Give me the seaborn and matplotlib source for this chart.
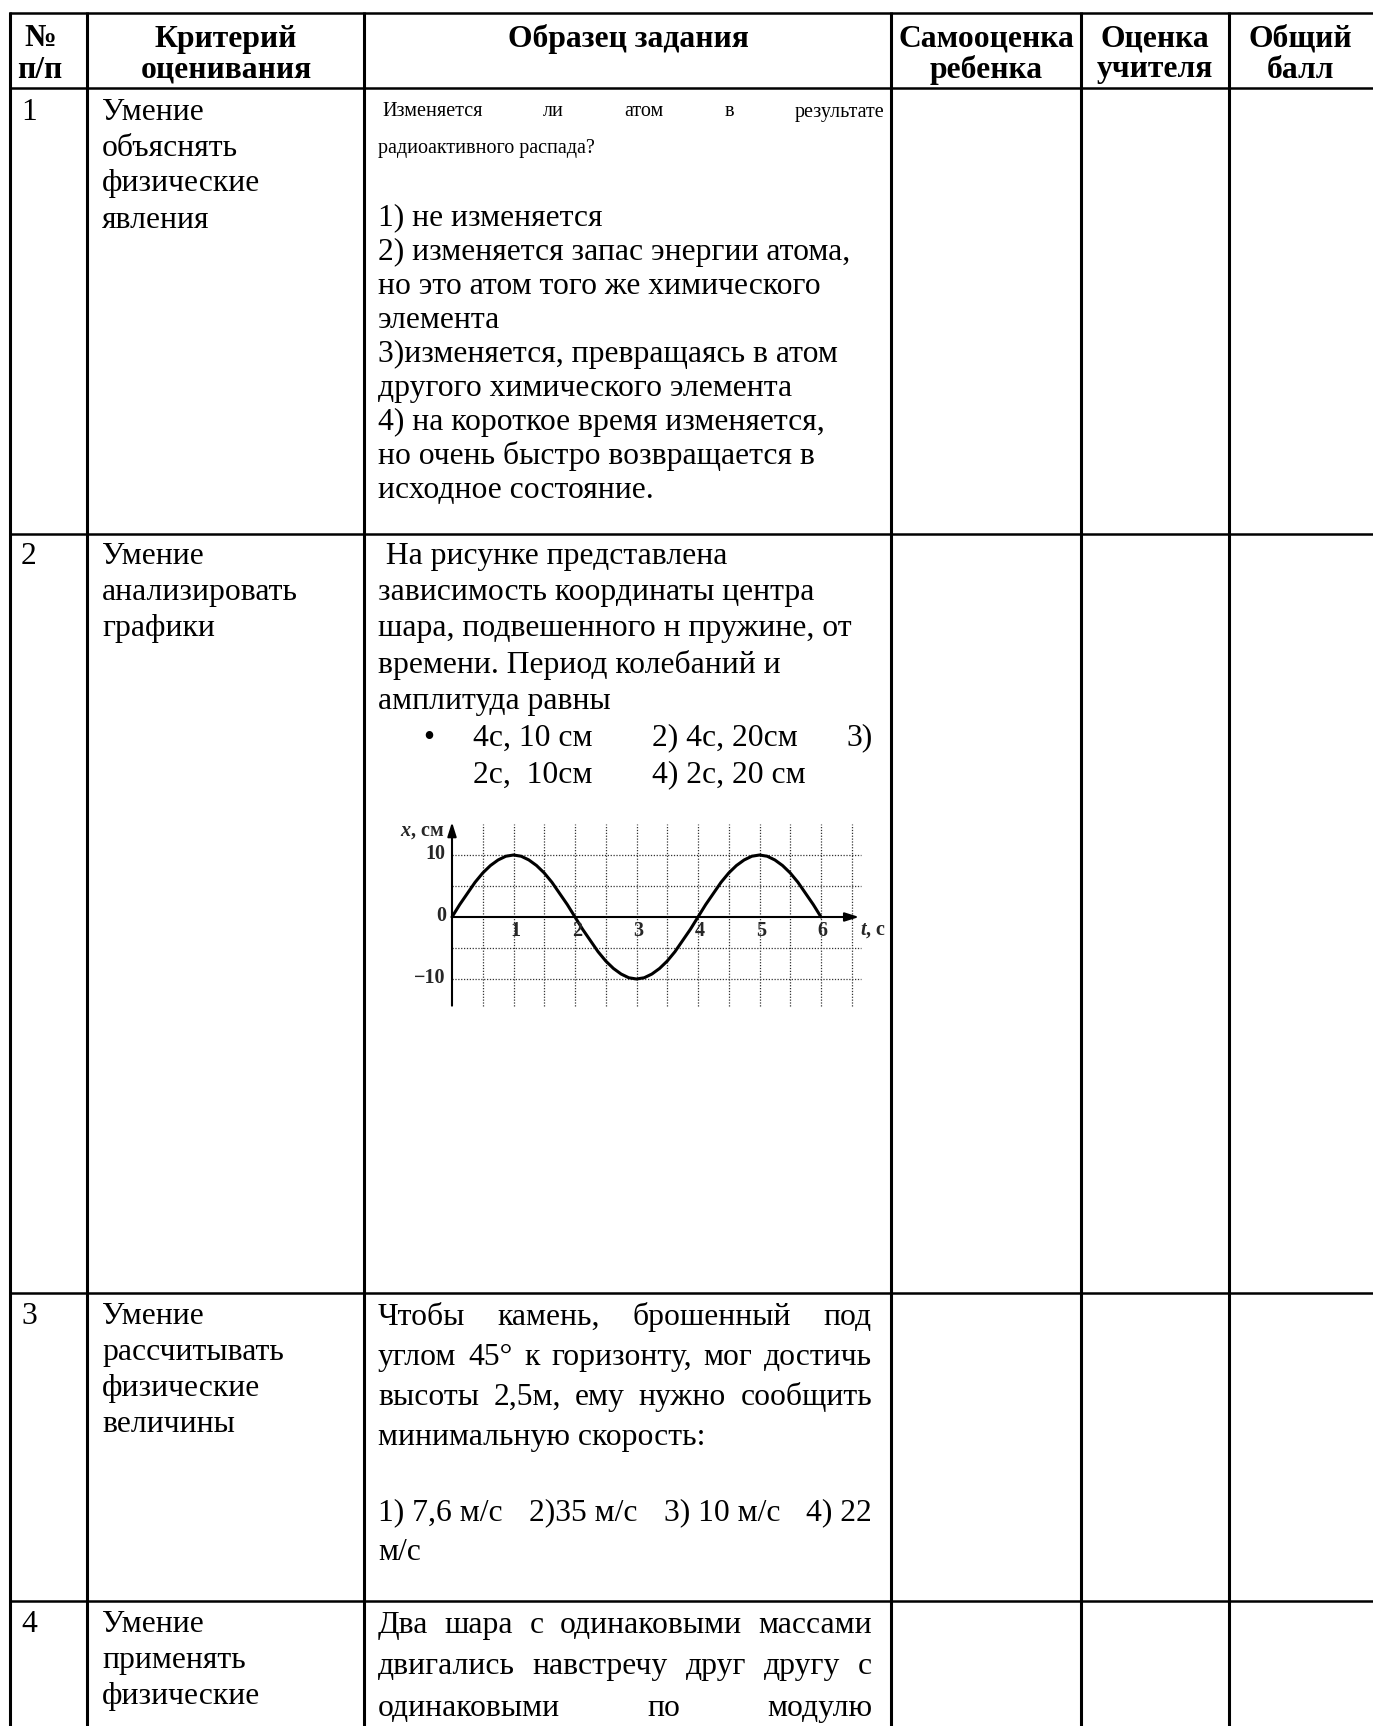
import numpy as np
import pandas as pd
import matplotlib
matplotlib.use("Agg")
import matplotlib.pyplot as plt
import seaborn as sns

# ---------------- data ----------------
header_col1 = ["№", "п/п"]
header_col2 = ["Критерий", "оценивания"]
header_col3 = ["Образец задания"]
header_col4 = ["Самооценка", "ребенка"]
header_col5 = ["Оценка", "учителя"]
header_col6 = ["Общий", "балл"]

row_numbers = ["1", "2", "3", "4"]
criteria_1 = ["Умение", "объяснять", "физические", "явления"]
criteria_2 = ["Умение", "анализировать", "графики"]
criteria_3 = ["Умение", "рассчитывать", "физические", "величины"]
criteria_4 = ["Умение", "применять", "физические"]

task1_first = ["Изменяется", "ли", "атом", "в", "результате"]
task1_second = "радиоактивного распада?"
task1_rest = ["1) не изменяется",
              "2) изменяется запас энергии атома,",
              "но это атом того же химического",
              "элемента",
              "3)изменяется, превращаясь в атом",
              "другого химического элемента",
              "4) на короткое время изменяется,",
              "но очень быстро возвращается в",
              "исходное состояние."]

task2_lines = [" На рисунке представлена",
               "зависимость координаты центра",
               "шара, подвешенного н пружине, от",
               "времени. Период колебаний и",
               "амплитуда равны"]
task2_opts_1 = ["4с, 10 см", "2) 4с, 20см", "3)"]
task2_opts_2 = ["2с,  10см", "4) 2с, 20 см"]

task3_just = [["Чтобы", "камень,", "брошенный", "под"],
              ["углом", "45°", "к", "горизонту,", "мог", "достичь"],
              ["высоты", "2,5м,", "ему", "нужно", "сообщить"]]
task3_plain = "минимальную скорость:"
task3_answers = ["1) 7,6 м/с", "2)35 м/с", "3) 10 м/с", "4) 22"]
task3_last = "м/с"

task4_just = [["Два", "шара", "с", "одинаковыми", "массами"],
              ["двигались", "навстречу", "друг", "другу", "с"],
              ["одинаковыми", "по", "модулю"]]

# oscillation graph (t in s, x in cm)
t_values = [0, 0.125, 0.25, 0.375, 0.5, 0.625, 0.75, 0.875, 1,
            1.125, 1.25, 1.375, 1.5, 1.625, 1.75, 1.875, 2,
            2.125, 2.25, 2.375, 2.5, 2.625, 2.75, 2.875, 3,
            3.125, 3.25, 3.375, 3.5, 3.625, 3.75, 3.875, 4,
            4.125, 4.25, 4.375, 4.5, 4.625, 4.75, 4.875, 5,
            5.125, 5.25, 5.375, 5.5, 5.625, 5.75, 5.875, 6]
x_values = [0, 2.0, 3.8, 5.6, 7.1, 8.3, 9.2, 9.8, 10,
            9.8, 9.2, 8.3, 7.1, 5.6, 3.8, 2.0, 0,
            -2.0, -3.8, -5.6, -7.1, -8.3, -9.2, -9.8, -10,
            -9.8, -9.2, -8.3, -7.1, -5.6, -3.8, -2.0, 0,
            2.0, 3.8, 5.6, 7.1, 8.3, 9.2, 9.8, 10,
            9.8, 9.2, 8.3, 7.1, 5.6, 3.8, 2.0, 0]
t_tick_labels = ["1", "2", "3", "4", "5", "6"]
t_ticks = [1, 2, 3, 4, 5, 6]
x_tick_labels = ["10", "0", "−10"]
x_ticks = [10, 0, -10]
grid_t = [0.5, 1, 1.5, 2, 2.5, 3, 3.5, 4, 4.5, 5, 5.5, 6, 6.5]
grid_x = [-10, -5, 5, 10]

# ---------------- style ----------------
sns.set_theme(style="white")
plt.rcParams['font.family'] = ['Liberation Serif', 'DejaVu Serif']
plt.rcParams['mathtext.fontset'] = 'custom'
plt.rcParams['mathtext.it'] = 'Liberation Serif:italic:bold'
plt.rcParams['mathtext.rm'] = 'Liberation Serif'

W, H = 1373, 1726
fig = plt.figure(figsize=(W / 100, H / 100), dpi=100)
fig.patch.set_facecolor('white')
ax = fig.add_axes([0, 0, 1, 1])
ax.set_xlim(0, W)
ax.set_ylim(H, 0)
ax.axis('off')
renderer = fig.canvas.get_renderer()

FS = 22.8
BODY = dict(fontsize=FS, color='black', va='center')
NARROW = dict(fontsize=14.5, color='black', va='center')

# table grid
col_x = [10, 87, 364, 891, 1081, 1229]
row_y = [13, 88, 534, 1293, 1601]
for x in col_x:
    ax.plot([x, x], [row_y[0] - 1, H], color='black', lw=2.2, solid_capstyle='butt')
for y in row_y:
    ax.plot([col_x[0] - 1, W], [y, y], color='black', lw=1.8, solid_capstyle='butt')

# header
hdr_y = [39, 70]
centers = [40, 226, 628, 986, 1155, 1300]
for cx, lines in zip(centers, [header_col1, header_col2, header_col3,
                               header_col4, header_col5, header_col6]):
    for yy, s in zip(hdr_y, lines):
        ax.text(cx, yy, s, ha='center', fontweight='bold', **BODY)


def justify(words, x0, x1, y, style):
    texts = [ax.text(0, y, w, ha='left', **style) for w in words]
    widths = [t.get_window_extent(renderer).width for t in texts]
    gap = (x1 - x0 - sum(widths)) / max(len(words) - 1, 1)
    x = x0
    for t, w in zip(texts, widths):
        t.set_x(x)
        x += w + gap


NUM_X, CRIT_X, TASK_X, TASK_R = 21, 102, 378, 872

row_line_y = [[112, 148, 184, 220], [556, 592, 628],
              [1316, 1352, 1388, 1424], [1624, 1660, 1696]]
for num, crit, ys in zip(row_numbers, [criteria_1, criteria_2, criteria_3, criteria_4], row_line_y):
    ax.text(NUM_X, ys[0], num, ha='left', **BODY)
    for yy, s in zip(ys, crit):
        ax.text(CRIT_X, yy, s, ha='left', **BODY)

# row 1 task
justify(task1_first, 382, 884, 112, NARROW)
ax.text(TASK_X, 148, task1_second, ha='left', **NARROW)
for i, s in enumerate(task1_rest):
    ax.text(TASK_X, 218 + 34 * i, s, ha='left', **BODY)

# row 2 task
for i, s in enumerate(task2_lines):
    ax.text(TASK_X, 556 + 36.4 * i, s, ha='left', **BODY)
ax.text(423, 738, "•", ha='left', **BODY)
for s, xx in zip(task2_opts_1, [473, 652, 846]):
    ax.text(xx, 738, s, ha='left', **BODY)
for s, xx in zip(task2_opts_2, [473, 652]):
    ax.text(xx, 775, s, ha='left', **BODY)

# row 3 task
for words, yy in zip(task3_just, [1317, 1357, 1397]):
    justify(words, TASK_X, TASK_R, yy, BODY)
ax.text(TASK_X, 1437, task3_plain, ha='left', **BODY)
justify(task3_answers, TASK_X, TASK_R, 1513, BODY)
ax.text(TASK_X, 1552, task3_last, ha='left', **BODY)

# row 4 task
for words, yy in zip(task4_just, [1625, 1666, 1708]):
    justify(words, TASK_X, TASK_R, yy, BODY)

# ---------------- embedded graph ----------------
px_t0, px_per_s = 452, 61.5
px_x0, px_per_cm = 917, 6.2
t_lo, t_hi = -1.3, 7.4
y_lo, y_hi = -15.5, 16.5
left = px_t0 + t_lo * px_per_s
right = px_t0 + t_hi * px_per_s
top = px_x0 - y_hi * px_per_cm
bottom = px_x0 - y_lo * px_per_cm
cax = fig.add_axes([left / W, 1 - bottom / H, (right - left) / W, (bottom - top) / H])
cax.set_xlim(t_lo, t_hi)
cax.set_ylim(y_lo, y_hi)
cax.axis('off')
cax.patch.set_alpha(0)

dot = (0, (1, 1.3))
for tv in grid_t:
    cax.plot([tv, tv], [-14.3, 15.0], color='#333333', lw=0.9, ls=dot)
for xv in grid_x:
    cax.plot([0, 6.65], [xv, xv], color='#333333', lw=0.9, ls=dot)

df = pd.DataFrame({"t": t_values, "x": x_values})
sns.lineplot(data=df, x="t", y="x", ax=cax, color='black', lw=2.2,
             estimator=None, sort=False, legend=False)

arrow = dict(arrowstyle='-|>,head_length=0.7,head_width=0.22', color='black',
             lw=1.5, shrinkA=0, shrinkB=0)
cax.annotate('', xy=(6.62, 0), xytext=(0, 0), arrowprops=arrow)
cax.annotate('', xy=(0, 15.3), xytext=(0, -14.3), arrowprops=arrow)

LFS = 14.5
LBL = dict(fontsize=LFS, fontweight='bold', va='center')
for tv, lab in zip(t_ticks, t_tick_labels):
    cax.text(tv + 0.03, -2.3, lab, ha='center', **LBL)
for xv, lab in zip(x_ticks, x_tick_labels):
    cax.text(-0.1, xv + 0.2, lab, ha='right', **LBL)
cax.text(-0.13, 13.8, r'$x$, см', ha='right', **LBL)
cax.text(6.64, -2.1, r'$t$, с', ha='left', **LBL)

fig.savefig('out.png', dpi=100, facecolor='white')
